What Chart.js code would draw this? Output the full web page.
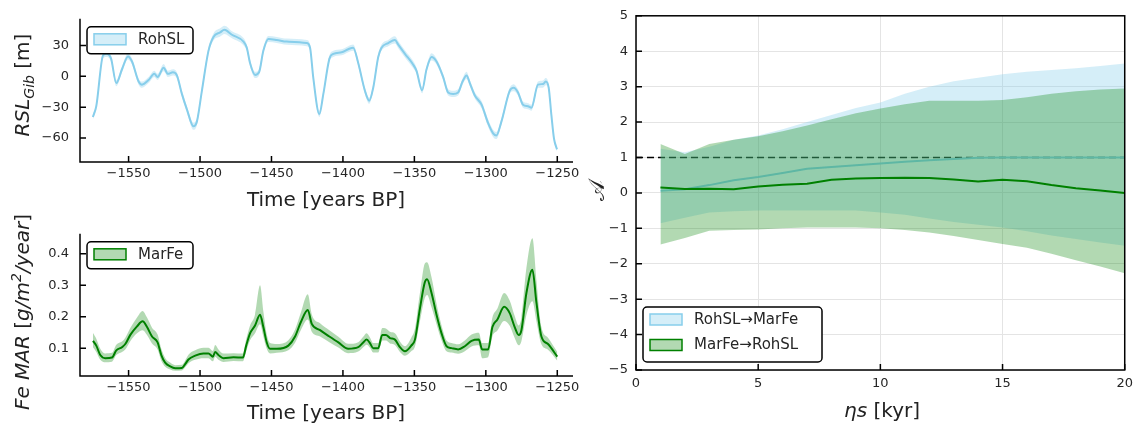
<!DOCTYPE html>
<html>
<head>
<meta charset="utf-8">
<script src="https://cdn.jsdelivr.net/npm/chart.js@4.4.0/dist/chart.umd.min.js"></script>
<style>
  html, body { margin: 0; padding: 0; background: #fff; }
  #wrap { position: relative; width: 1139px; height: 428px; overflow: hidden; font-family: 'DejaVu Sans', sans-serif; color: #222; }
  canvas { position: absolute; }
  .t { position: absolute; transform: translate(-50%, -50%); white-space: nowrap; font-size: 20px; line-height: 1; }
  .r { transform: translate(-50%, -50%) rotate(-90deg); }
  sub, sup { font-size: 14px; line-height: 0; }
  .cal { font-family: 'DejaVu Serif', 'DejaVu Sans', serif; font-size: 22px; }
</style>
</head>
<body>
<div id="wrap">
  <canvas id="rsl" width="590" height="215" style="left:0;top:0"></canvas>
  <canvas id="fe" width="590" height="213" style="left:0;top:215px"></canvas>
  <canvas id="te" width="549" height="428" style="left:590px;top:0"></canvas>
  <div class="t r" style="left:22px;top:85px"><i>RSL<sub>Gib</sub></i> [m]</div>
  <div class="t" style="left:326px;top:199px">Time [years BP]</div>
  <div class="t r" style="left:22px;top:312px"><i>Fe MAR</i> [<i>g/m<sup>2</sup>/year</i>]</div>
  <div class="t" style="left:326px;top:412px">Time [years BP]</div>
  <div class="t r cal" style="left:597px;top:190px">𝒜</div>
  <div class="t" style="left:882px;top:410px"><i>ηs</i> [kyr]</div>
</div>
<script>
// --- RSL Gibraltar (top left) ---
var rslYears = [-1575, -1572.6, -1567.9, -1565.6, -1562.3, -1558.6, -1554.6, -1550.4, -1547.6, -1543,
  -1540.6, -1536, -1532, -1529.7, -1525.5, -1522.5, -1519, -1516.2, -1512.7, -1509.2,
  -1504.6, -1502.2, -1498.7, -1494.1, -1490.6, -1485.9, -1482.9, -1477.7, -1469.6, -1467.3,
  -1465, -1461.5, -1458.7, -1455.7, -1452.2, -1446.3, -1439.3, -1425.3, -1423, -1420.7,
  -1416.5, -1413.7, -1409.5, -1406.7, -1400.9, -1396.3, -1392.8, -1389.3, -1384.6, -1381.6,
  -1378.8, -1375.3, -1373, -1368.3, -1363.6, -1361.3, -1356.6, -1350.8, -1348.5, -1344.6,
  -1341.5, -1338, -1334.5, -1329.9, -1326.4, -1322.9, -1319.4, -1316.3, -1313.5, -1311.2,
  -1307.7, -1303, -1298.4, -1294.9, -1292.6, -1289.1, -1283.3, -1280.5, -1277.5, -1274,
  -1270.5, -1268.1, -1263.5, -1260, -1258.1, -1256, -1254.1, -1252.3, -1250.2];
var rslValues = [-39.6, -29, 20.3, 21.9, 17.4, -6.6, 6.9, 19.4, 14.4, -5.1,
  -8.1, -3.6, 2.4, -0.6, 8.4, 2.4, 3.9, 0.9, -17.1, -32.1,
  -48.6, -44.1, -14.1, 24.8, 38.3, 42.8, 45.3, 40.5, 33.8, 27.9,
  12.9, 1.4, 3.9, 24.8, 36.3, 35.4, 33.8, 32.4, 27.9, -2.1,
  -36.6, -17.1, 17, 21.9, 23.4, 26.4, 27.9, 12.9, -14.1, -23.7,
  -11.1, 18.9, 27.9, 32.4, 35.4, 30.9, 21.9, 11.3, 5.4, -13.5,
  6.8, 18.9, 14.4, -0.6, -15.7, -17.1, -15.7, -5.1, 0.9, -6.6,
  -18.6, -27.6, -45.6, -55.5, -57.6, -44.1, -14.1, -11.1, -15.7, -27.6,
  -29.1, -30.6, -8.1, -7.5, -5.1, -11.1, -38.1, -60.6, -71.1];
var rslErr = [2.5, 2.5, 3, 3, 3, 3, 3, 3, 3, 3,
  3, 3, 3, 3, 3.5, 3, 3, 3, 3, 3,
  3.5, 3.5, 3, 3, 3.5, 4, 4, 3.5, 3.5, 3,
  3, 3, 3, 3, 3, 3, 3, 3, 3, 3,
  3, 3, 3, 3, 3, 3, 3, 3, 3, 3,
  3, 3, 3, 3, 3.5, 3.5, 3.5, 3.5, 3, 3,
  3, 3.5, 3, 3, 3, 3, 3, 3, 3.5, 3,
  3, 3.5, 3.5, 3.5, 3.5, 3, 3, 3.5, 3, 3,
  3, 3, 3, 3.5, 3.5, 3, 3, 2.5, 2];

// --- Fe MAR (bottom left) ---
var feYears = [-1574.9, -1572.6, -1569.8, -1566.3, -1561.6, -1558.6, -1554.6, -1552.3, -1548.8, -1544.1,
  -1540.2, -1537.1, -1533.6, -1529.7, -1527.1, -1524.4, -1520.9, -1517.4, -1512.7, -1510.4,
  -1508.1, -1503.4, -1497.6, -1494.1, -1491, -1489.4, -1487.1, -1483.6, -1476.6, -1470,
  -1467.7, -1465, -1461.5, -1458, -1455.7, -1453.3, -1451, -1446.3, -1438.2, -1433.5,
  -1429.5, -1424.6, -1421.8, -1416, -1409.5, -1403.2, -1396.3, -1389.3, -1385.8, -1383.4,
  -1381.1, -1378.8, -1375.3, -1372.5, -1369.9, -1367.1, -1363.6, -1360.1, -1356.6, -1352.2,
  -1349.6, -1346.1, -1342.7, -1341.1, -1338, -1334.5, -1331, -1327.5, -1324, -1319.4,
  -1314.7, -1310, -1304.9, -1302.6, -1298.4, -1295.4, -1291.9, -1287.2, -1283.3, -1279.8,
  -1277, -1275.1, -1271.6, -1267.4, -1264.6, -1261.1, -1256.5, -1250];
var feValues = [0.123, 0.108, 0.078, 0.068, 0.070, 0.093, 0.103, 0.113, 0.142, 0.169,
  0.185, 0.167, 0.137, 0.118, 0.078, 0.054, 0.042, 0.036, 0.037, 0.049,
  0.064, 0.076, 0.083, 0.083, 0.073, 0.088, 0.078, 0.068, 0.071, 0.070,
  0.108, 0.147, 0.172, 0.206, 0.167, 0.118, 0.098, 0.098, 0.108, 0.137,
  0.182, 0.221, 0.177, 0.157, 0.137, 0.118, 0.098, 0.103, 0.118, 0.127,
  0.116, 0.100, 0.100, 0.142, 0.142, 0.132, 0.127, 0.103, 0.090, 0.108,
  0.127, 0.226, 0.309, 0.319, 0.275, 0.206, 0.147, 0.106, 0.100, 0.096,
  0.106, 0.123, 0.127, 0.096, 0.096, 0.167, 0.191, 0.231, 0.211, 0.167,
  0.142, 0.157, 0.275, 0.349, 0.245, 0.137, 0.113, 0.073];
var feErrUp = [0.025, 0.022, 0.02, 0.015, 0.015, 0.018, 0.018, 0.02, 0.022, 0.028,
  0.033, 0.03, 0.028, 0.025, 0.02, 0.015, 0.012, 0.01, 0.01, 0.012,
  0.015, 0.017, 0.018, 0.018, 0.018, 0.022, 0.018, 0.015, 0.013, 0.013,
  0.02, 0.025, 0.035, 0.094, 0.05, 0.025, 0.018, 0.015, 0.017, 0.022,
  0.03, 0.05, 0.03, 0.022, 0.02, 0.018, 0.016, 0.016, 0.018, 0.02,
  0.018, 0.016, 0.016, 0.022, 0.02, 0.02, 0.02, 0.018, 0.016, 0.025,
  0.035, 0.05, 0.06, 0.054, 0.05, 0.035, 0.025, 0.018, 0.016, 0.016,
  0.018, 0.02, 0.022, 0.02, 0.02, 0.03, 0.035, 0.044, 0.04, 0.035,
  0.03, 0.04, 0.08, 0.1, 0.07, 0.03, 0.02, 0.015];
var feErrDn = [0.02, 0.02, 0.015, 0.013, 0.013, 0.015, 0.015, 0.017, 0.02, 0.022,
  0.028, 0.025, 0.022, 0.022, 0.018, 0.013, 0.01, 0.008, 0.008, 0.01,
  0.012, 0.013, 0.015, 0.015, 0.015, 0.015, 0.015, 0.012, 0.012, 0.012,
  0.018, 0.022, 0.025, 0.03, 0.03, 0.02, 0.015, 0.013, 0.015, 0.02,
  0.025, 0.03, 0.025, 0.02, 0.018, 0.016, 0.014, 0.014, 0.015, 0.016,
  0.015, 0.014, 0.014, 0.018, 0.018, 0.017, 0.017, 0.015, 0.014, 0.018,
  0.022, 0.04, 0.05, 0.05, 0.045, 0.03, 0.022, 0.016, 0.014, 0.014,
  0.016, 0.018, 0.018, 0.028, 0.025, 0.03, 0.035, 0.045, 0.04, 0.035,
  0.033, 0.035, 0.07, 0.1, 0.06, 0.025, 0.018, 0.013];

// --- transfer entropy panel (right) ---
var etaS = [1, 2, 3, 4, 5, 6, 7, 8, 9, 10, 11, 12, 13, 14, 15, 16, 17, 18, 19, 20];
var rohMarMean = [0.06, 0.1, 0.22, 0.36, 0.45, 0.56, 0.68, 0.73, 0.78, 0.83, 0.88, 0.92, 0.96, 0.99, 1.0, 1.0, 1.0, 1.0, 1.0, 1.0];
var rohMarLo = [-0.86, -0.7, -0.55, -0.52, -0.5, -0.5, -0.5, -0.5, -0.5, -0.55, -0.62, -0.72, -0.82, -0.9, -0.98, -1.08, -1.2, -1.3, -1.4, -1.49];
var rohMarHi = [1.25, 1.15, 1.3, 1.5, 1.62, 1.8, 2.0, 2.2, 2.4, 2.55, 2.8, 3.0, 3.15, 3.25, 3.35, 3.42, 3.47, 3.52, 3.58, 3.65];
var marRohMean = [0.15, 0.11, 0.12, 0.1, 0.18, 0.23, 0.26, 0.37, 0.41, 0.42, 0.43, 0.42, 0.38, 0.32, 0.37, 0.33, 0.22, 0.13, 0.07, 0.0];
var marRohLo = [-1.46, -1.27, -1.07, -1.05, -1.03, -1.0, -0.98, -0.98, -0.98, -1.0, -1.05, -1.12, -1.22, -1.33, -1.44, -1.55, -1.72, -1.9, -2.08, -2.27];
var marRohHi = [1.38, 1.1, 1.38, 1.5, 1.6, 1.74, 1.9, 2.08, 2.25, 2.38, 2.5, 2.6, 2.6, 2.6, 2.62, 2.7, 2.8, 2.87, 2.92, 2.95];
var refLevel = 1;

// tick labels
var yearTicks = [-1550, -1500, -1450, -1400, -1350, -1300, -1250];
var rslTicks = [-60, -30, 0, 30];
var feTicks = [0.1, 0.2, 0.3, 0.4];
var etaTicks = [0, 5, 10, 15, 20];
var teTicks = [-5, -4, -3, -2, -1, 0, 1, 2, 3, 4, 5];

var SKY = 'rgb(135,206,235)';
var SKY_FILL = 'rgba(135,206,235,0.35)';
var GREEN = 'rgb(0,128,0)';
var GREEN_FILL = 'rgba(0,128,0,0.3)';

Chart.defaults.font.family = "'DejaVu Sans', sans-serif";
Chart.defaults.font.size = 13;
Chart.defaults.color = '#262626';

function pts(xs, ys) {
    return xs.map(function (x, i) { return { x: x, y: ys[i] }; });
}

// negative numbers get a real minus sign, like the original plot
function fmt(v) {
    return v < 0 ? '\u2212' + String(-v) : String(v);
}

// inward ticks, spines / box frame and an in-plot legend
var panelPlugin = {
    id: 'panel',
    afterDraw: function (chart, args, opts) {
        var ctx = chart.ctx, a = chart.chartArea;
        var xs = chart.scales.x, ys = chart.scales.y;
        ctx.save();
        ctx.strokeStyle = '#000';
        ctx.lineWidth = 1.5;
        ctx.beginPath();
        xs.ticks.forEach(function (t) {
            var p = xs.getPixelForValue(t.value);
            ctx.moveTo(p, a.bottom); ctx.lineTo(p, a.bottom - 6);
        });
        ys.ticks.forEach(function (t) {
            var p = ys.getPixelForValue(t.value);
            ctx.moveTo(a.left, p); ctx.lineTo(a.left + 6, p);
        });
        ctx.stroke();
        if (opts.box) {
            ctx.strokeRect(a.left, a.top, a.right - a.left, a.bottom - a.top);
        } else {
            ctx.beginPath();
            ctx.moveTo(a.left, a.top); ctx.lineTo(a.left, a.bottom); ctx.lineTo(a.right, a.bottom);
            ctx.stroke();
        }

        var lg = opts.legend;
        if (lg) {
            var bx = a.left + 7;
            var by = lg.bottom ? a.bottom - 8 - lg.h : a.top + 8;
            ctx.fillStyle = '#fff';
            ctx.beginPath();
            ctx.roundRect(bx, by, lg.w, lg.h, 4);
            ctx.fill();
            ctx.stroke();
            ctx.font = "15px 'DejaVu Sans', sans-serif";
            ctx.textBaseline = 'middle';
            lg.items.forEach(function (it, i) {
                var sy = by + 7 + i * 25.5;
                ctx.fillStyle = it.fill;
                ctx.fillRect(bx + 7, sy, 32, 11);
                ctx.strokeStyle = it.stroke;
                ctx.lineWidth = 1.5;
                ctx.strokeRect(bx + 7, sy, 32, 11);
                ctx.fillStyle = '#262626';
                ctx.fillText(it.label, bx + 51, sy + 6);
            });
        }
        ctx.restore();
    }
};

function axis(min, max, tickVals, size, pad, isX) {
    return {
        type: 'linear',
        min: min,
        max: max,
        grid: { display: false, drawTicks: false },
        border: { display: false },
        afterBuildTicks: function (s) { s.ticks = tickVals.map(function (v) { return { value: v }; }); },
        afterFit: function (s) { if (isX) { s.height = size; } else { s.width = size; } },
        ticks: { padding: pad, autoSkip: false, maxRotation: 0, callback: fmt }
    };
}

function seriesChart(id, xs, ys, lo, hi, line, fill, label, yMin, yMax, yTicks, pad) {
    new Chart(document.getElementById(id), {
        type: 'line',
        data: {
            datasets: [
                { data: pts(xs, lo), borderWidth: 0, borderColor: 'transparent', pointRadius: 0, fill: false, order: 3, cubicInterpolationMode: 'monotone' },
                { data: pts(xs, hi), borderWidth: 0, borderColor: 'transparent', pointRadius: 0, fill: { target: 0, above: fill, below: fill }, order: 2, cubicInterpolationMode: 'monotone' },
                { data: pts(xs, ys), borderColor: line, borderWidth: 2, pointRadius: 0, fill: false, order: 1, cubicInterpolationMode: 'monotone' }
            ]
        },
        options: {
            responsive: false,
            animation: false,
            events: [],
            layout: { padding: pad },
            scales: {
                x: axis(-1584, -1239, yearTicks, pad.xh, 4, true),
                y: axis(yMin, yMax, yTicks, 80, 11, false)
            },
            plugins: {
                legend: { display: false },
                tooltip: { enabled: false },
                panel: { box: false, legend: { w: 106, h: 27, items: [{ label: label, fill: fill, stroke: line }] } }
            }
        },
        plugins: [panelPlugin]
    });
}

var rslLo = rslValues.map(function (v, i) { return v - rslErr[i]; });
var rslHi = rslValues.map(function (v, i) { return v + rslErr[i]; });
seriesChart('rsl', rslYears, rslValues, rslLo, rslHi, SKY, SKY_FILL, 'RohSL', -83.4, 56, rslTicks,
    { left: 0, top: 7, right: 17, bottom: 0, xh: 53 });

var feLo = feValues.map(function (v, i) { return v - feErrDn[i]; });
var feHi = feValues.map(function (v, i) { return v + feErrUp[i]; });
seriesChart('fe', feYears, feValues, feLo, feHi, GREEN, GREEN_FILL, 'MarFe', 0.0115, 0.463, feTicks,
    { left: 0, top: 8, right: 17, bottom: 0, xh: 52 });

// right panel
var teX = axis(0, 20, etaTicks, 58, 6, true);
teX.grid = { display: true, drawTicks: false, color: '#e4e4e4', lineWidth: 1 };
var teY = axis(-5, 5, teTicks, 46, 8, false);
teY.grid = { display: true, drawTicks: false, color: '#e4e4e4', lineWidth: 1 };

new Chart(document.getElementById('te'), {
    type: 'line',
    data: {
        datasets: [
            { data: pts([0, 20], [refLevel, refLevel]), borderColor: '#000', borderWidth: 1.5, borderDash: [7, 4], pointRadius: 0, fill: false, order: 10 },
            { data: pts(etaS, rohMarLo), borderWidth: 0, borderColor: 'transparent', pointRadius: 0, fill: false, order: 9 },
            { data: pts(etaS, rohMarHi), borderWidth: 0, borderColor: 'transparent', pointRadius: 0, fill: { target: 1, above: SKY_FILL, below: SKY_FILL }, order: 8 },
            { data: pts(etaS, rohMarMean), borderColor: SKY, borderWidth: 2, pointRadius: 0, fill: false, order: 7 },
            { data: pts(etaS, marRohLo), borderWidth: 0, borderColor: 'transparent', pointRadius: 0, fill: false, order: 6 },
            { data: pts(etaS, marRohHi), borderWidth: 0, borderColor: 'transparent', pointRadius: 0, fill: { target: 4, above: GREEN_FILL, below: GREEN_FILL }, order: 5 },
            { data: pts(etaS, marRohMean), borderColor: GREEN, borderWidth: 2, pointRadius: 0, fill: false, order: 4 }
        ]
    },
    options: {
        responsive: false,
        animation: false,
        events: [],
        layout: { padding: { left: 0, top: 14, right: 10, bottom: 0 } },
        scales: { x: teX, y: teY },
        plugins: {
            legend: { display: false },
            tooltip: { enabled: false },
            panel: {
                box: true,
                legend: {
                    bottom: true, w: 179, h: 55,
                    items: [
                        { label: 'RohSL\u2192MarFe', fill: SKY_FILL, stroke: SKY },
                        { label: 'MarFe\u2192RohSL', fill: GREEN_FILL, stroke: GREEN }
                    ]
                }
            }
        }
    },
    plugins: [panelPlugin]
});
</script>
</body>
</html>
